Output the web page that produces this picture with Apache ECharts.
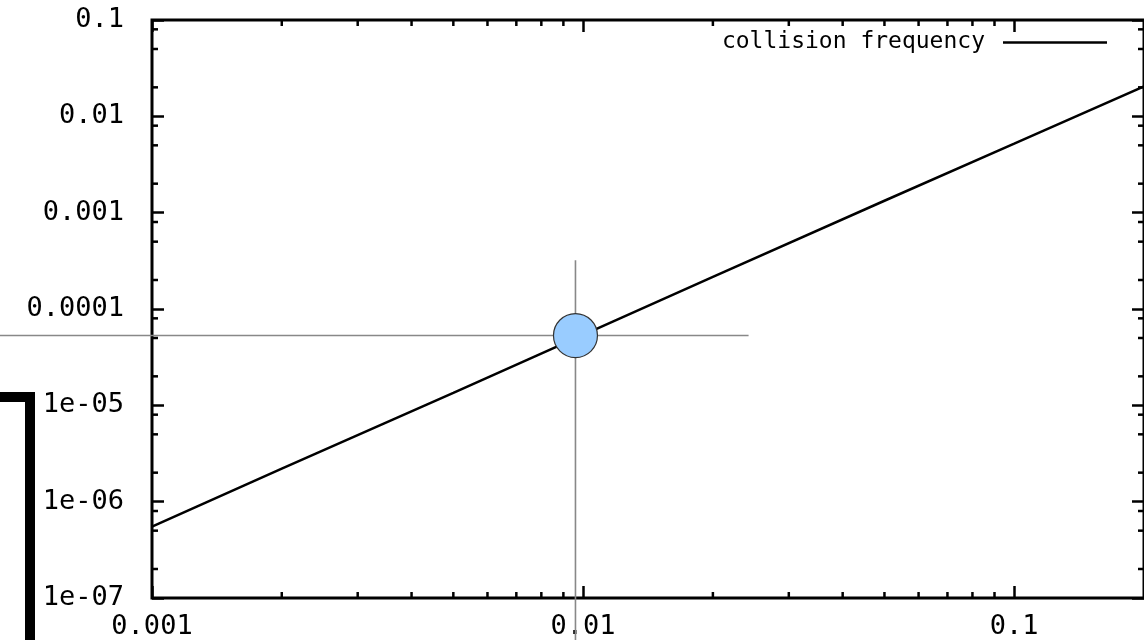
<!DOCTYPE html>
<html><head><meta charset="utf-8">
<script src="https://cdn.jsdelivr.net/npm/echarts@6/dist/echarts.min.js"></script>
<style>html,body{margin:0;padding:0;background:#fff}#c{width:1144px;height:640px}</style>
</head><body><div id="c"></div>
<script>
const seriesName = 'collision frequency';
const xValues = [0.001, 0.002, 0.005, 0.01, 0.02, 0.05, 0.1, 0.2];
const yValues = [5.5e-7, 2.2e-6, 1.35e-5, 5.4e-5, 2.15e-4, 1.33e-3, 5.2e-3, 2.05e-2];
const markerPoint = [0.0096, 5.3e-5];
const xTickValues = [0.001, 0.01, 0.1];
const xTickLabels = ['0.001', '0.01', '0.1'];
const yTickValues = [1e-7, 1e-6, 1e-5, 1e-4, 1e-3, 1e-2, 1e-1];
const yTickLabels = ['1e-07', '1e-06', '1e-05', '0.0001', '0.001', '0.01', '0.1'];
const xMinorMultipliers = [2, 3, 4, 5, 6, 7, 8, 9];
const yMinorMultipliers = [2, 5, 8];
const crossHX = [4.4e-4, 0.0242];
const crossVY = [3.2e-4, 3.5e-8];

const X_MIN = 0.001, X_MAX = 0.2, Y_MIN = 1e-7, Y_MAX = 0.1;

const xMinor = [];
xTickValues.forEach(d => xMinorMultipliers.forEach(m => { const v = d * m; if (v < X_MAX * 0.999) xMinor.push([v, Y_MIN]); }));
const yMinor = [];
yTickValues.forEach(d => yMinorMultipliers.forEach(m => { const v = d * m; if (v < Y_MAX * 0.999) yMinor.push([X_MIN, v]); }));

function labelFor(vals, labels) {
  return function (v) {
    const i = vals.findIndex(t => Math.abs(Math.log10(t) - Math.log10(v)) < 1e-6);
    return i >= 0 ? labels[i] : '';
  };
}

const FONT = 'DejaVu Sans Mono';
const tickStyle = { color: '#000', width: 2.5 };
const MAJ = 12, MIN = 6;

const chart = echarts.init(document.getElementById('c'), null, { renderer: 'canvas' });

const commonX = { type: 'log', logBase: 10, min: X_MIN, max: X_MAX, splitLine: { show: false }, axisLine: { show: false } };
const commonY = { type: 'log', logBase: 10, min: Y_MIN, max: Y_MAX, splitNumber: 6, splitLine: { show: false }, axisLine: { show: false } };

chart.setOption({
  animation: false,
  backgroundColor: '#fff',
  grid: { left: 152, right: -1, top: 20, bottom: 42, show: true, borderColor: '#000', borderWidth: 3, containLabel: false },
  legend: {
    data: [seriesName], right: 37, top: 31, padding: 0, align: 'right',
    icon: 'rect', itemWidth: 104, itemHeight: 2.5,
    itemStyle: { color: '#000' },
    textStyle: { fontFamily: FONT, fontSize: 23, color: '#000', padding: [0, 13, 0, 0] }
  },
  xAxis: [
    Object.assign({}, commonX, {
      position: 'bottom',
      axisTick: { inside: true, length: MAJ, lineStyle: tickStyle },
      axisLabel: { margin: 15, fontFamily: FONT, fontSize: 27, color: '#000', showMaxLabel: false, formatter: labelFor(xTickValues, xTickLabels) }
    }),
    Object.assign({}, commonX, {
      position: 'top',
      axisTick: { inside: true, length: MAJ, lineStyle: tickStyle },
      axisLabel: { show: false }
    })
  ],
  yAxis: [
    Object.assign({}, commonY, {
      position: 'left',
      axisTick: { inside: true, length: MAJ, lineStyle: tickStyle },
      axisLabel: { margin: 28, fontFamily: FONT, fontSize: 27, color: '#000', formatter: labelFor(yTickValues, yTickLabels) }
    }),
    Object.assign({}, commonY, {
      position: 'right',
      axisTick: { inside: true, length: MAJ, lineStyle: tickStyle },
      axisLabel: { show: false }
    })
  ],
  series: [
    {
      name: seriesName, type: 'line', xAxisIndex: 0, yAxisIndex: 0,
      data: xValues.map((x, i) => [x, yValues[i]]),
      showSymbol: false, symbol: 'none', z: 5,
      lineStyle: { color: '#000', width: 2.5 }, itemStyle: { color: '#000' }
    },
    {
      type: 'scatter', xAxisIndex: 0, yAxisIndex: 0, data: [markerPoint],
      symbol: 'circle', symbolSize: 44, z: 10, silent: true,
      itemStyle: { color: '#99ccff', borderColor: '#333', borderWidth: 1.2, opacity: 1 }
    },
    {
      type: 'custom', xAxisIndex: 0, yAxisIndex: 0, data: xMinor, silent: true, z: 3,
      renderItem: function (params, api) {
        const v = api.value(0);
        const b = api.coord([v, Y_MIN]);
        const t = api.coord([v, Y_MAX]);
        return { type: 'group', children: [
          { type: 'line', shape: { x1: b[0], y1: b[1], x2: b[0], y2: b[1] - MIN }, style: { stroke: '#000', lineWidth: 2.5 } },
          { type: 'line', shape: { x1: t[0], y1: t[1], x2: t[0], y2: t[1] + MIN }, style: { stroke: '#000', lineWidth: 2.5 } }
        ] };
      }
    },
    {
      type: 'custom', xAxisIndex: 0, yAxisIndex: 0, data: yMinor, silent: true, z: 3,
      renderItem: function (params, api) {
        const v = api.value(1);
        const l = api.coord([X_MIN, v]);
        const r = api.coord([X_MAX, v]);
        return { type: 'group', children: [
          { type: 'line', shape: { x1: l[0], y1: l[1], x2: l[0] + MIN, y2: l[1] }, style: { stroke: '#000', lineWidth: 2.5 } },
          { type: 'line', shape: { x1: r[0], y1: r[1], x2: r[0] - MIN, y2: r[1] }, style: { stroke: '#000', lineWidth: 2.5 } }
        ] };
      }
    }
  ]
});

const fi = { xAxisIndex: 0, yAxisIndex: 0 };
const hA = chart.convertToPixel(fi, [crossHX[0], markerPoint[1]]);
const hB = chart.convertToPixel(fi, [crossHX[1], markerPoint[1]]);
const vA = chart.convertToPixel(fi, [markerPoint[0], crossVY[0]]);
const vB = chart.convertToPixel(fi, [markerPoint[0], crossVY[1]]);

chart.setOption({
  graphic: [
    { type: 'line', z: 1, shape: { x1: hA[0], y1: hA[1], x2: hB[0], y2: hB[1] }, style: { stroke: '#888', lineWidth: 1.6 } },
    { type: 'line', z: 1, shape: { x1: vA[0], y1: vA[1], x2: vB[0], y2: vB[1] }, style: { stroke: '#888', lineWidth: 1.6 } },
    { type: 'polyline', z: 1, shape: { points: [[0, 397], [30, 397], [30, 650]] }, style: { stroke: '#000', lineWidth: 10, fill: null, lineJoin: 'miter' } }
  ]
});
</script>
</body></html>
